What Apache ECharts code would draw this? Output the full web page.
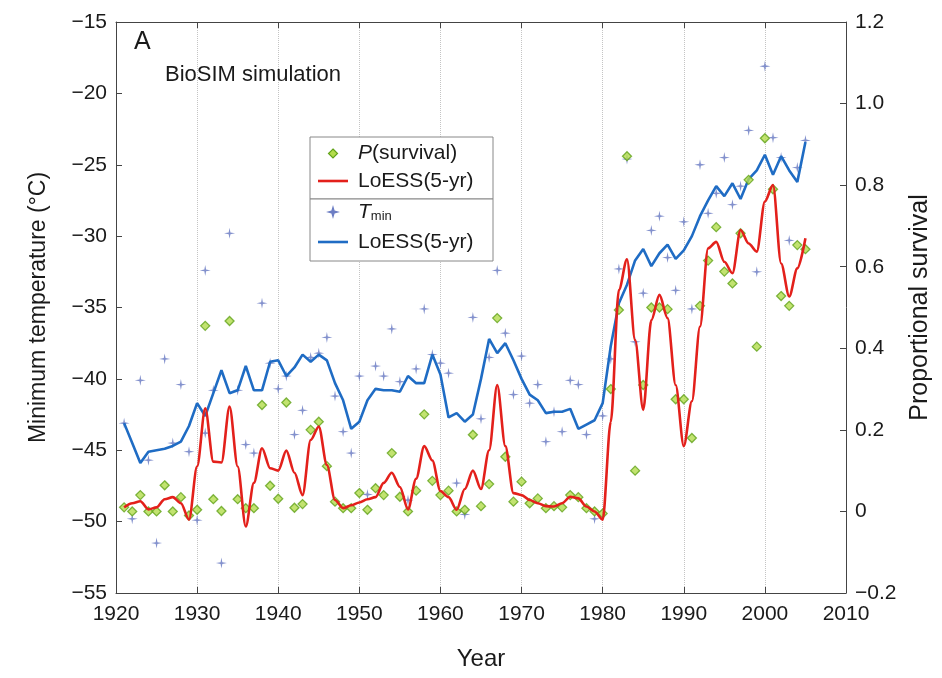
<!DOCTYPE html>
<html>
<head>
<meta charset="utf-8">
<script src="https://cdn.jsdelivr.net/npm/echarts@6/dist/echarts.min.js"></script>
<style>
html,body{margin:0;padding:0;background:#fff;}
#chart{width:942px;height:678px;}
</style>
</head>
<body>
<div id="chart"></div>
<script>
var years = [1921,1922,1923,1924,1925,1926,1927,1928,1929,1930,
1931,1932,1933,1934,1935,1936,1937,1938,1939,1940,
1941,1942,1943,1944,1945,1946,1947,1948,1949,1950,
1951,1952,1953,1954,1955,1956,1957,1958,1959,1960,
1961,1962,1963,1964,1965,1966,1967,1968,1969,1970,
1971,1972,1973,1974,1975,1976,1977,1978,1979,1980,
1981,1982,1983,1984,1985,1986,1987,1988,1989,1990,
1991,1992,1993,1994,1995,1996,1997,1998,1999,2000,
2001,2002,2003,2004,2005];

// Tmin observations (°C); an extra reading appears at 1931
var tminYears = years.concat([1931]);
var tminValues = [-43.1,-49.8,-40.1,-45.7,-51.5,-38.6,-44.5,-40.4,-45.1,-49.9,
-32.4,-40.8,-52.9,-29.8,-40.8,-44.6,-45.2,-34.7,-38.9,-40.7,
-39.8,-43.9,-42.2,-38.5,-38.2,-37.1,-41.2,-43.7,-45.2,-39.8,
-48.1,-39.1,-39.8,-36.5,-40.2,-48.5,-39.3,-35.1,-38.3,-38.9,
-39.6,-47.3,-49.5,-35.7,-42.8,-38.5,-32.4,-36.8,-41.1,-38.4,
-41.7,-40.4,-44.4,-42.3,-43.7,-40.1,-40.4,-43.9,-49.8,-42.6,
-38.6,-32.3,-24.6,-37.4,-34.0,-29.6,-28.6,-31.5,-33.8,-29.0,
-35.1,-25.0,-28.4,-27.0,-24.5,-27.8,-26.5,-22.6,-32.5,-18.1,
-23.1,-24.5,-30.3,-25.2,-23.3,
-43.8];

var loessT = [-43.1,-44.5,-45.9,-45.1,-45.0,-44.9,-44.7,-44.4,-43.3,-41.7,
-42.6,-41.0,-39.4,-41.0,-40.8,-39.1,-40.8,-40.8,-38.8,-38.7,
-39.8,-39.2,-38.3,-38.8,-38.3,-38.7,-40.3,-41.5,-43.5,-43.0,
-41.5,-40.7,-40.8,-40.8,-40.9,-39.8,-40.3,-40.3,-38.3,-39.7,
-42.7,-42.4,-43.0,-42.5,-40.0,-37.2,-38.2,-37.5,-38.7,-40.0,
-41.1,-41.5,-42.4,-42.3,-42.3,-42.1,-43.5,-43.2,-42.9,-41.7,
-37.7,-34.7,-33.4,-31.7,-30.9,-32.1,-31.2,-30.6,-31.6,-31.0,
-30.0,-28.6,-27.5,-26.5,-27.2,-26.3,-27.4,-26.0,-25.4,-24.3,
-25.7,-24.4,-25.4,-26.2,-23.4];

var pSurvival = [0.01,0.0,0.04,0.0,0.0,0.064,0.0,0.035,-0.01,0.004,
0.455,0.03,0.001,0.467,0.03,0.008,0.008,0.261,0.063,0.031,
0.267,0.009,0.018,0.2,0.22,0.111,0.024,0.008,0.008,0.045,
0.004,0.057,0.04,0.143,0.036,0.0,0.051,0.238,0.075,0.04,
0.051,0.0,0.004,0.188,0.013,0.067,0.474,0.134,0.024,0.073,
0.02,0.032,0.008,0.013,0.01,0.04,0.035,0.008,0.0,-0.005,
0.3,0.494,0.871,0.1,0.31,0.5,0.5,0.496,0.275,0.275,
0.18,0.504,0.615,0.697,0.588,0.559,0.682,0.813,0.404,0.915,
0.79,0.528,0.504,0.653,0.643];

var loessP = [0.01,0.02,0.025,0.005,0.01,0.03,0.035,0.02,-0.02,0.11,
0.253,0.122,0.12,0.257,0.11,-0.037,0.07,0.155,0.106,0.10,
0.149,0.095,0.04,0.175,0.208,0.114,0.028,0.008,0.015,0.022,
0.03,0.035,0.07,0.095,0.06,0.005,0.08,0.16,0.125,0.05,
0.035,0.004,0.055,0.1,0.055,0.15,0.31,0.16,0.045,0.04,
0.028,0.02,0.013,0.012,0.02,0.036,0.032,0.012,0.0,-0.02,
0.22,0.543,0.618,0.42,0.249,0.469,0.531,0.474,0.31,0.16,
0.27,0.453,0.645,0.661,0.612,0.584,0.69,0.657,0.637,0.76,
0.80,0.608,0.527,0.596,0.67];

var xTicks = {min:1920, max:2010, step:10};
var tAxis = {min:-55, max:-15, step:5};
var pAxis = {min:-0.2, max:1.2, step:0.2};

function pairs(xs, ys){ return xs.map(function(x,i){ return [x, ys[i]]; }); }

var FONT = '"Liberation Sans", Arial, Helvetica, sans-serif';
var TXT = '#1a1a1a';
var RED = '#e3201b';
var BLUE = '#1f6cc4';
var STAR = 'path://M0,-10 L1.6,-1.6 L10,0 L1.6,1.6 L0,10 L-1.6,1.6 L-10,0 L-1.6,-1.6 Z';

function minus(s){ return String(s).replace('-', '\u2212'); }

var chart = echarts.init(document.getElementById('chart'), null, {renderer:'canvas'});
var axisLineStyle = {color:'#444', width:1};

var option = {
  animation:false,
  backgroundColor:'#fff',
  textStyle:{fontFamily:FONT},
  grid:{left:116, right:96, top:22, bottom:85},
  xAxis:[{
    type:'value', min:xTicks.min, max:xTicks.max, interval:xTicks.step,
    axisLine:{show:true, onZero:false, lineStyle:axisLineStyle},
    axisTick:{inside:true, length:6, lineStyle:axisLineStyle},
    axisLabel:{fontSize:21, color:TXT, margin:11, fontFamily:FONT, formatter:function(v){return String(v);}},
    splitLine:{show:true, lineStyle:{type:'dotted', color:'#c4c4c4', width:1}},
    name:'Year', nameLocation:'middle', nameGap:54,
    nameTextStyle:{fontSize:24, color:TXT, fontFamily:FONT}
  },{
    type:'value', position:'top', min:xTicks.min, max:xTicks.max, interval:xTicks.step,
    axisLine:{show:true, onZero:false, lineStyle:axisLineStyle},
    axisTick:{inside:true, length:6, lineStyle:axisLineStyle},
    axisLabel:{show:false}, splitLine:{show:false}
  }],
  yAxis:[{
    type:'value', min:tAxis.min, max:tAxis.max, interval:tAxis.step,
    axisLine:{show:true, onZero:false, lineStyle:axisLineStyle},
    axisTick:{inside:true, length:6, lineStyle:axisLineStyle},
    axisLabel:{fontSize:21, color:TXT, margin:9, fontFamily:FONT, formatter:function(v){return minus(v);}},
    splitLine:{show:false},
    name:'Minimum temperature (\u00B0C)', nameLocation:'middle', nameGap:66, nameRotate:90,
    nameTextStyle:{fontSize:23, color:TXT, fontFamily:FONT}
  },{
    type:'value', position:'right', min:pAxis.min, max:pAxis.max, interval:pAxis.step,
    axisLine:{show:true, onZero:false, lineStyle:axisLineStyle},
    axisTick:{inside:true, length:6, lineStyle:axisLineStyle},
    axisLabel:{fontSize:21, color:TXT, margin:9, fontFamily:FONT, formatter:function(v){
      if (Math.abs(v) < 1e-9) return '0';
      return minus(v.toFixed(1));
    }},
    splitLine:{show:false},
    name:'Proportional survival', nameLocation:'middle', nameGap:58, nameRotate:90,
    nameTextStyle:{fontSize:25, color:TXT, fontFamily:FONT}
  }],
  series:[
    {
      name:'Tmin', type:'scatter', xAxisIndex:0, yAxisIndex:0,
      data:pairs(tminYears, tminValues),
      symbol:STAR, symbolSize:11,
      itemStyle:{color:'#6d7ec4', opacity:0.85}, z:2
    },
    {
      name:'LoESS T', type:'line', xAxisIndex:0, yAxisIndex:0,
      data:pairs(years, loessT), symbol:'none', smooth:false,
      lineStyle:{color:BLUE, width:2.6}, z:3
    },
    {
      name:'P(survival)', type:'scatter', xAxisIndex:0, yAxisIndex:1,
      data:pairs(years, pSurvival),
      symbol:'diamond', symbolSize:9,
      itemStyle:{color:'#b3dc4c', borderColor:'#62a31a', borderWidth:1.3}, z:4
    },
    {
      name:'LoESS P', type:'line', xAxisIndex:0, yAxisIndex:1,
      data:pairs(years, loessP), symbol:'none', smooth:0.3, smoothMonotone:'x',
      lineStyle:{color:RED, width:2.6}, z:5
    }
  ],
  graphic:[
    {type:'text', x:134, y:30, z:20, style:{text:'A', font:'25px '+FONT, fill:TXT}},
    {type:'text', x:165, y:64, z:20, style:{text:'BioSIM simulation', font:'22px '+FONT, fill:TXT}},
    {type:'rect', z:20, shape:{x:310, y:137, width:183, height:62}, style:{fill:'#fff', stroke:'#888', lineWidth:1}},
    {type:'rect', z:20, shape:{x:310, y:199, width:183, height:62}, style:{fill:'#fff', stroke:'#888', lineWidth:1}},
    {type:'polygon', z:21, shape:{points:[[333,149],[337.5,153.5],[333,158],[328.5,153.5]]}, style:{fill:'#b3dc4c', stroke:'#62a31a', lineWidth:1.2}},
    {type:'text', z:21, x:358, y:153, style:{text:'{i|P}(survival)', font:'21px '+FONT, fill:TXT, verticalAlign:'middle',
      rich:{i:{fontStyle:'italic', fontSize:21, fontFamily:FONT, fill:TXT}}}},
    {type:'line', z:21, shape:{x1:318, y1:181, x2:348, y2:181}, style:{stroke:RED, lineWidth:2.6}},
    {type:'text', z:21, x:358, y:181, style:{text:'LoESS(5-yr)', font:'21px '+FONT, fill:TXT, verticalAlign:'middle'}},
    {type:'polygon', z:21, shape:{points:[[333,205],[334.6,210.4],[340,212],[334.6,213.6],[333,219],[331.4,213.6],[326,212],[331.4,210.4]]}, style:{fill:'#6d7ec4'}},
    {type:'text', z:21, x:358, y:212, style:{text:'{i|T}{s|min}', font:'21px '+FONT, fill:TXT, verticalAlign:'middle',
      rich:{i:{fontStyle:'italic', fontSize:21, fontFamily:FONT}, s:{fontSize:13, fontFamily:FONT, padding:[9,0,0,0]}}}},
    {type:'line', z:21, shape:{x1:318, y1:242, x2:348, y2:242}, style:{stroke:BLUE, lineWidth:2.6}},
    {type:'text', z:21, x:358, y:242, style:{text:'LoESS(5-yr)', font:'21px '+FONT, fill:TXT, verticalAlign:'middle'}}
  ]
};
chart.setOption(option);
</script>
</body>
</html>
